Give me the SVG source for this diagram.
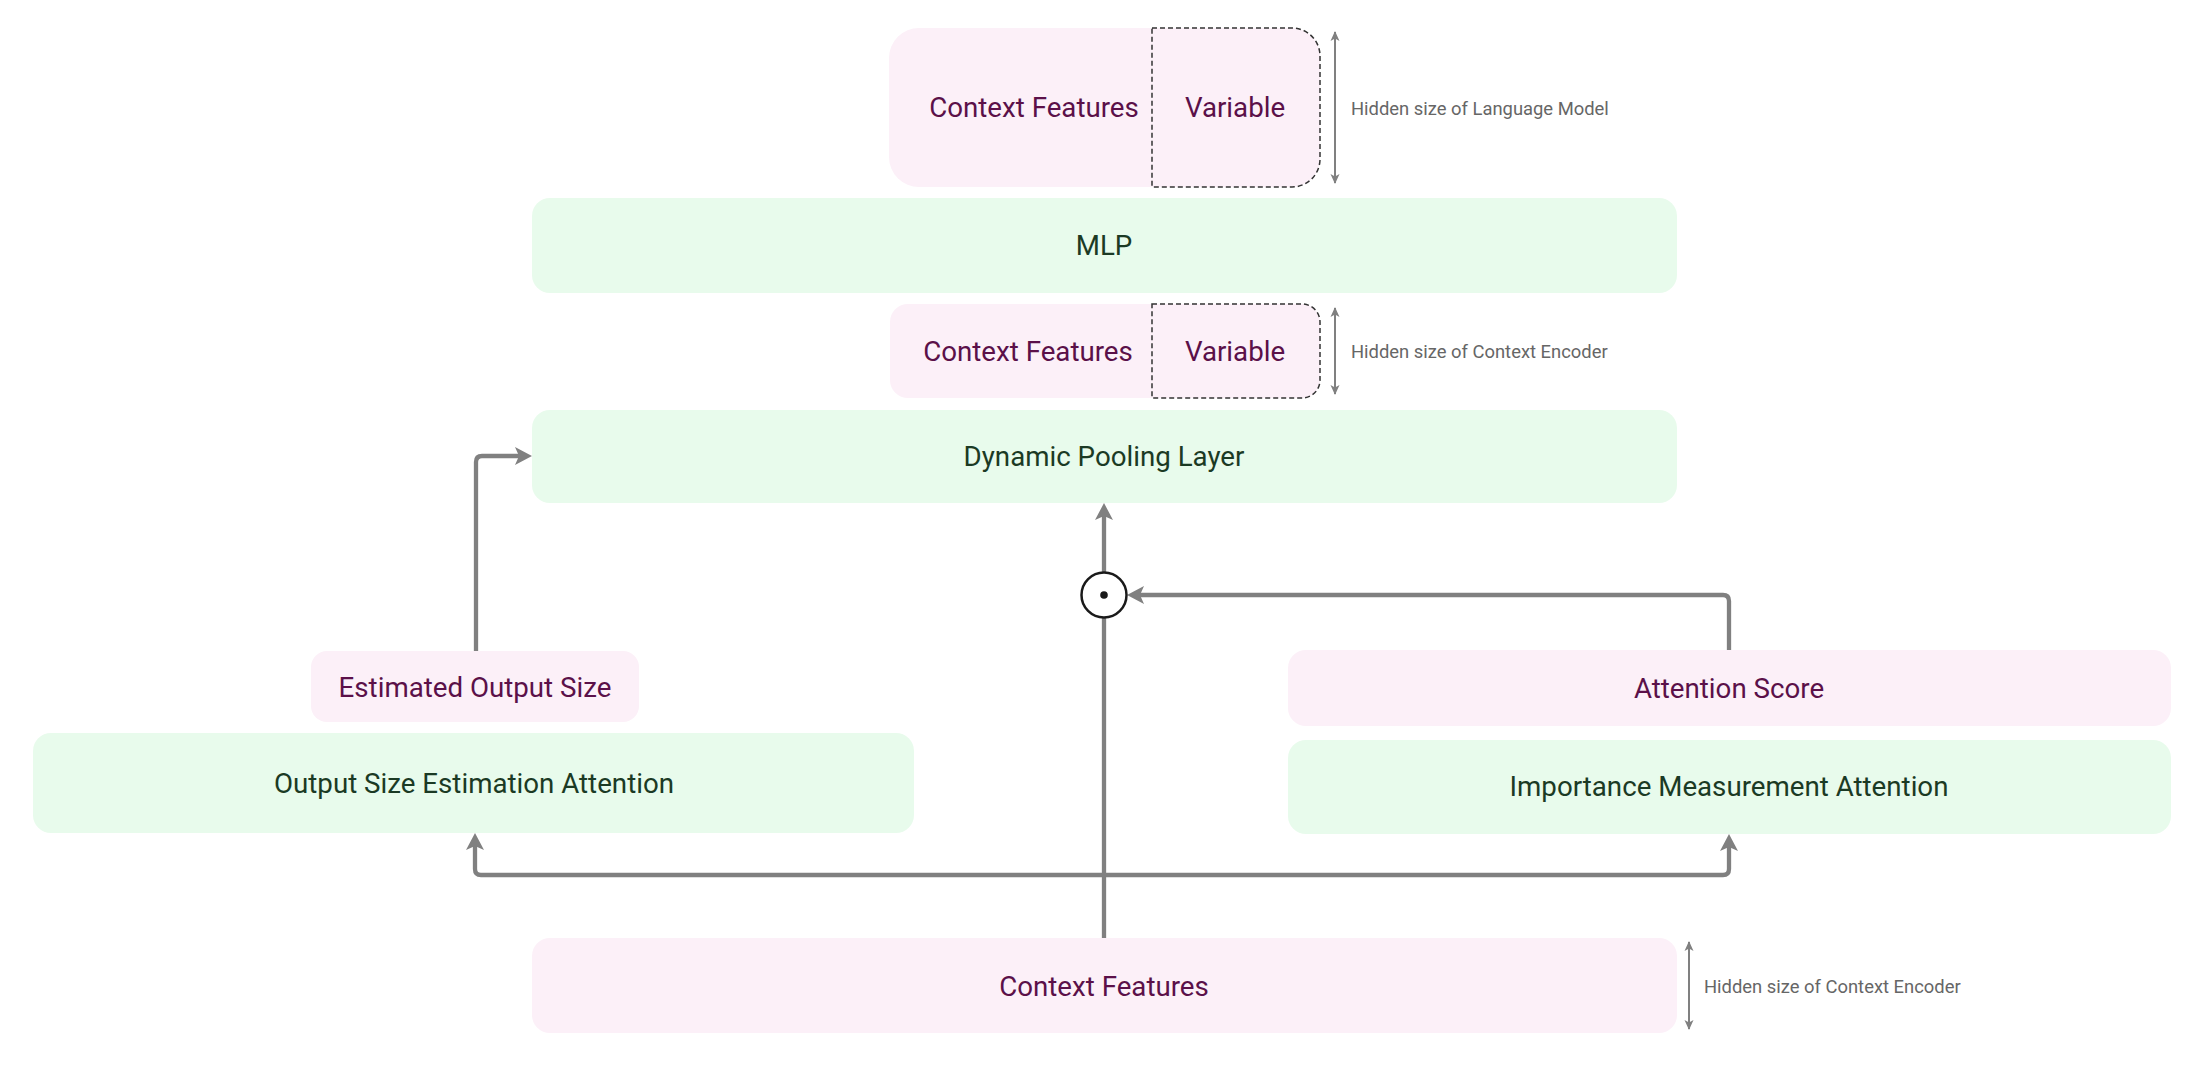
<svg xmlns="http://www.w3.org/2000/svg" width="2207" height="1066" viewBox="0 0 2207 1066">
<defs>
<style>
.pink{fill:#fcf0f8}
.green{fill:#e8fbec}
.tp{font-family:Roboto,"Liberation Sans",sans-serif;font-size:27.7px;fill:#5b1049;text-anchor:middle;dominant-baseline:central}
.tg{font-family:Roboto,"Liberation Sans",sans-serif;font-size:27.7px;fill:#1b3a24;text-anchor:middle;dominant-baseline:central}
.lbl{font-family:Roboto,"Liberation Sans",sans-serif;font-size:18.4px;fill:#666;dominant-baseline:central}
.dash{fill:none;stroke:#333;stroke-width:1.5;stroke-dasharray:5 3}
.conn{fill:none;stroke:#808080;stroke-width:4.3;stroke-linejoin:round}
.dim{fill:none;stroke:#808080;stroke-width:2}
</style>
<marker id="ah" viewBox="0 0 20 20" refX="11" refY="10" markerWidth="20" markerHeight="20" markerUnits="userSpaceOnUse" orient="auto">
<path d="M2,1 L19,10 L2,19 L6,10 Z" fill="#808080"/>
</marker>
<marker id="dh" viewBox="0 0 10 10" refX="9" refY="5" markerWidth="10" markerHeight="10" markerUnits="userSpaceOnUse" orient="auto-start-reverse">
<path d="M0,0.5 L10,5 L0,9.5 L2.5,5 Z" fill="#808080"/>
</marker>
</defs>
<rect width="2207" height="1066" fill="#ffffff"/>

<g id="connectors">
<path class="conn" d="M476,651 V462 Q476,456 482,456 H524" marker-end="url(#ah)"/>
<path class="conn" d="M1104,938 V618"/>
<path class="conn" d="M1104,572 V511" marker-end="url(#ah)"/>
<path class="conn" d="M1729,650 V601 Q1729,595 1723,595 H1135" marker-end="url(#ah)"/>
<path class="conn" d="M1104,875 H481 Q475,875 475,869 V841" marker-end="url(#ah)"/>
<path class="conn" d="M1104,875 H1723 Q1729,875 1729,869 V842" marker-end="url(#ah)"/>
<path class="dim" d="M1335,32 V183" marker-start="url(#dh)" marker-end="url(#dh)"/>
<path class="dim" d="M1335,308 V394" marker-start="url(#dh)" marker-end="url(#dh)"/>
<path class="dim" d="M1689,942 V1029" marker-start="url(#dh)" marker-end="url(#dh)"/>
</g>

<g id="ctx-top">
<path class="pink" d="M919,28 H1292 A28,28 0 0 1 1320,56 V159 A28,28 0 0 1 1292,187 H919 A30,30 0 0 1 889,157 V58 A30,30 0 0 1 919,28 Z"/>
<path class="dash" d="M1152,28 H1292 A28,28 0 0 1 1320,56 V159 A28,28 0 0 1 1292,187 H1152 Z"/>
<text class="tp" x="1034" y="107">Context Features</text>
<text class="tp" x="1235" y="107">Variable</text>
<text class="lbl" x="1351" y="108">Hidden size of Language Model</text>
</g>

<g id="mlp">
<rect class="green" x="532" y="198" width="1145" height="95" rx="18"/>
<text class="tg" x="1104" y="245">MLP</text>
</g>

<g id="ctx-mid">
<path class="pink" d="M908,304 H1302 A18,18 0 0 1 1320,322 V380 A18,18 0 0 1 1302,398 H908 A18,18 0 0 1 890,380 V322 A18,18 0 0 1 908,304 Z"/>
<path class="dash" d="M1152,304 H1302 A18,18 0 0 1 1320,322 V380 A18,18 0 0 1 1302,398 H1152 Z"/>
<text class="tp" x="1028" y="351">Context Features</text>
<text class="tp" x="1235" y="351">Variable</text>
<text class="lbl" x="1351" y="351">Hidden size of Context Encoder</text>
</g>

<g id="pooling">
<rect class="green" x="532" y="410" width="1145" height="93" rx="18"/>
<text class="tg" x="1104" y="456">Dynamic Pooling Layer</text>
</g>

<g id="hadamard">
<circle cx="1104" cy="595" r="22.5" fill="#ffffff" stroke="#1a1a1a" stroke-width="2.5"/>
<circle cx="1104" cy="595" r="3.8" fill="#1a1a1a"/>
</g>

<g id="est-size">
<rect class="pink" x="311" y="651" width="328" height="71" rx="16"/>
<text class="tp" x="475" y="687">Estimated Output Size</text>
</g>

<g id="osea">
<rect class="green" x="33" y="733" width="881" height="100" rx="18"/>
<text class="tg" x="474" y="783">Output Size Estimation Attention</text>
</g>

<g id="att-score">
<rect class="pink" x="1288" y="650" width="883" height="76" rx="18"/>
<text class="tp" x="1729" y="688">Attention Score</text>
</g>

<g id="ima">
<rect class="green" x="1288" y="740" width="883" height="94" rx="18"/>
<text class="tg" x="1729" y="786">Importance Measurement Attention</text>
</g>

<g id="ctx-bottom">
<rect class="pink" x="532" y="938" width="1145" height="95" rx="18"/>
<text class="tp" x="1104" y="986">Context Features</text>
<text class="lbl" x="1704" y="986">Hidden size of Context Encoder</text>
</g>
</svg>
